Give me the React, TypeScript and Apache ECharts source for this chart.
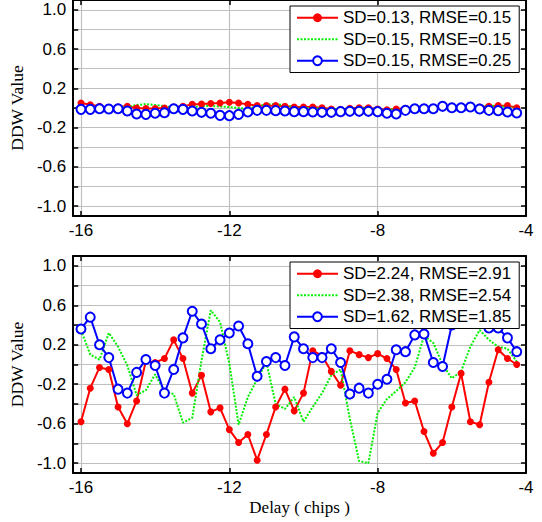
import React, { useEffect, useRef } from 'react';
import * as echarts from 'echarts';

const delay = [
  -16, -15.75, -15.5, -15.25, -15, -14.75, -14.5, -14.25,
  -14, -13.75, -13.5, -13.25, -13, -12.75, -12.5, -12.25,
  -12, -11.75, -11.5, -11.25, -11, -10.75, -10.5, -10.25,
  -10, -9.75, -9.5, -9.25, -9, -8.75, -8.5, -8.25,
  -8, -7.75, -7.5, -7.25, -7, -6.75, -6.5, -6.25,
  -6, -5.75, -5.5, -5.25, -5, -4.75, -4.5, -4.25,
];

const topNames = ['SD=0.13, RMSE=0.15', 'SD=0.15, RMSE=0.15', 'SD=0.15, RMSE=0.25'];
const bottomNames = ['SD=2.24, RMSE=2.91', 'SD=2.38, RMSE=2.54', 'SD=1.62, RMSE=1.85'];

const topRed = [
  0.051, 0.034, 0.017, 0.003, 0.01, 0.017, 0.0, -0.005, -0.005, 0.0, 0.01, 0.017,
  0.037, 0.04, 0.045, 0.051, 0.058, 0.051, 0.037, 0.024, 0.024, 0.024, 0.017, 0.01,
  0.01, 0.01, 0.003, -0.01, -0.014, -0.003, 0.003, 0.003, -0.01, -0.017, -0.01, -0.003,
  0.003, 0.003, 0.003, 0.017, 0.017, 0.017, 0.017, 0.01, 0.017, 0.024, 0.024, 0.003,
];
const topGreen = [
  0.0, 0.0, 0.0, -0.005, 0.0, 0.01, 0.03, 0.04, 0.03, 0.02, 0.0, 0.0,
  0.01, 0.02, 0.02, 0.015, 0.01, 0.0, -0.01, 0.02, 0.035, 0.04, 0.03, 0.01,
  0.0, 0.0, -0.005, -0.01, -0.01, -0.005, 0.0, -0.005, -0.01, -0.015, -0.015, -0.005,
  0.0, 0.005, 0.01, 0.01, 0.01, 0.01, 0.01, 0.02, 0.025, 0.02, 0.01, 0.0,
];
const topBlue = [
  -0.014, -0.014, -0.007, -0.01, -0.007, -0.031, -0.061, -0.065, -0.054, -0.048, -0.007, -0.014,
  -0.031, -0.044, -0.054, -0.075, -0.078, -0.065, -0.041, -0.024, -0.024, -0.027, -0.031, -0.037,
  -0.037, -0.041, -0.044, -0.044, -0.037, -0.034, -0.034, -0.034, -0.037, -0.054, -0.061, -0.024,
  -0.007, -0.007, -0.007, 0.017, 0.003, 0.003, 0.01, -0.01, -0.024, -0.027, -0.041, -0.051,
];

const botRed = [
  -0.58, -0.24, -0.03, -0.05, -0.43, -0.6, -0.37, 0.035, 0.02, 0.06, 0.25, 0.06,
  -0.29, -0.11, -0.48, -0.44, -0.66, -0.79, -0.71, -0.97, -0.71, -0.43, -0.25, -0.47,
  -0.29, 0.14, 0.09, -0.07, -0.21, 0.14, 0.1, 0.07, 0.11, 0.06, -0.05, -0.39,
  -0.37, -0.68, -0.9, -0.79, -0.43, -0.09, -0.58, -0.61, -0.18, 0.15, 0.06, 0.0,
];
const botGreen = [
  0.35, 0.1, 0.05, 0.32, 0.18, -0.01, -0.31, -0.26, -0.1, -0.27, -0.3, -0.59,
  -0.54, 0.04, 0.55, 0.43, 0.01, -0.61, -0.33, -0.15, 0.02, -0.4, -0.45, -0.33,
  -0.58, -0.43, -0.29, -0.11, -0.05, -0.55, -0.98, -1.0, -0.49, -0.35, -0.27, -0.18,
  -0.03, 0.29, 0.22, 0.0, -0.14, -0.07, 0.18, 0.35, 0.25, 0.18, 0.16, 0.03,
];
const botBlue = [
  0.36, 0.48, 0.2, 0.07, -0.25, -0.29, -0.08, 0.05, -0.01, -0.29, -0.05, 0.27,
  0.54, 0.41, 0.16, 0.25, 0.32, 0.39, 0.21, -0.12, 0.03, 0.07, -0.01, 0.28,
  0.16, 0.07, 0.07, 0.16, 0.02, -0.3, -0.24, -0.29, -0.2, -0.15, 0.15, 0.13,
  0.3, 0.31, 0.02, -0.02, 0.4, 0.42, 0.45, 0.42, 0.37, 0.37, 0.27, 0.13,
];

const yTicks = [-1.0, -0.8, -0.6, -0.4, -0.2, 0, 0.2, 0.4, 0.6, 0.8, 1.0];
const yLabels = [-1.0, -0.6, -0.2, 0.2, 0.6, 1.0];
const xTicks = [-16, -12, -8, -4];

const SANS = '"Liberation Sans", Arial, sans-serif';
const SERIF = '"Liberation Serif", "Times New Roman", serif';
const GRID_COLOR = '#bfbfbf';
const GREEN = '#00f000';

function pair(ys: number[]) {
  return delay.map((x, i) => [x, ys[i]]);
}

function makeX(gridIndex: number, top: boolean, withName: boolean) {
  return {
    type: 'value',
    gridIndex,
    position: top ? 'top' : 'bottom',
    min: -16.21,
    max: -4,
    name: withName ? 'Delay ( chips )' : '',
    nameLocation: 'middle',
    nameGap: 26,
    nameTextStyle: { fontFamily: SERIF, fontSize: 17, color: '#000' },
    axisLine: { show: true, onZero: false, lineStyle: { color: '#000', width: 2 } },
    axisTick: { show: true, inside: true, length: 5, customValues: xTicks, lineStyle: { color: '#000', width: 1.5 } },
    axisLabel: {
      show: !top,
      customValues: xTicks,
      formatter: (v: number) => String(v),
      fontFamily: SANS,
      fontSize: 17,
      color: '#000',
      margin: 6,
    },
    splitLine: { show: !top, lineStyle: { color: GRID_COLOR, width: 1.2 } },
  };
}

function makeY(gridIndex: number, right: boolean) {
  return {
    type: 'value',
    gridIndex,
    position: right ? 'right' : 'left',
    min: -1.1,
    max: 1.1,
    name: right ? '' : 'DDW Value',
    nameLocation: 'middle',
    nameGap: 43,
    nameTextStyle: { fontFamily: SERIF, fontSize: 17.5, color: '#000' },
    axisLine: { show: true, onZero: false, lineStyle: { color: '#000', width: 2 } },
    axisTick: { show: true, inside: true, length: 5, customValues: yTicks, lineStyle: { color: '#000', width: 1.5 } },
    axisLabel: {
      show: !right,
      customValues: yLabels,
      formatter: (v: number) => v.toFixed(1),
      fontFamily: SANS,
      fontSize: 17,
      color: '#000',
      margin: 7,
    },
    splitLine: { show: !right, lineStyle: { color: GRID_COLOR, width: 1.2 } },
  };
}

function makeSeries(names: string[], r: number[], g: number[], b: number[], xi: number, yi: number) {
  return [
    {
      type: 'line', name: names[0], xAxisIndex: xi, yAxisIndex: yi, data: pair(r),
      symbol: 'circle', symbolSize: 7, color: '#ff0000',
      lineStyle: { color: '#ff0000', width: 2 }, itemStyle: { color: '#ff0000' },
    },
    {
      type: 'line', name: names[1], xAxisIndex: xi, yAxisIndex: yi, data: pair(g),
      showSymbol: false, symbol: 'none', color: GREEN,
      lineStyle: { color: GREEN, width: 2, type: [2, 1.5] },
    },
    {
      type: 'line', name: names[2], xAxisIndex: xi, yAxisIndex: yi, data: pair(b),
      symbol: 'emptyCircle', symbolSize: 9, color: '#0000ff',
      lineStyle: { color: '#0000ff', width: 2 }, itemStyle: { color: '#0000ff', borderWidth: 2, borderColor: '#0000ff' },
    },
  ];
}

function makeLegend(names: string[], top: number) {
  return {
    data: [
      { name: names[0] },
      { name: names[1], itemStyle: { opacity: 0 } },
      { name: names[2] },
    ],
    orient: 'vertical',
    left: 290,
    top,
    itemWidth: 41,
    itemHeight: 11,
    itemGap: 0,
    padding: [1, 8, 1, 6],
    backgroundColor: '#ffffff',
    borderColor: '#000',
    borderWidth: 1,
    selectedMode: false,
    z: 20,
    textStyle: { fontFamily: SANS, fontSize: 17, color: '#000', lineHeight: 21.5 },
  };
}

export default function App() {
  const ref = useRef<HTMLDivElement>(null);
  useEffect(() => {
    if (!ref.current) return;
    const chart = echarts.init(ref.current, undefined, { renderer: 'svg' });
    chart.setOption({
      animation: false,
      backgroundColor: '#ffffff',
      grid: [
        { left: 70, width: 456, top: -1, height: 217, show: false },
        { left: 70, width: 456, top: 256, height: 217, show: false },
      ],
      legend: [makeLegend(topNames, 6), makeLegend(bottomNames, 262)],
      xAxis: [makeX(0, false, false), makeX(0, true, false), makeX(1, false, true), makeX(1, true, false)],
      yAxis: [makeY(0, false), makeY(0, true), makeY(1, false), makeY(1, true)],
      series: [
        ...makeSeries(topNames, topRed, topGreen, topBlue, 0, 0),
        ...makeSeries(bottomNames, botRed, botGreen, botBlue, 2, 2),
      ],
    });
    return () => chart.dispose();
  }, []);
  return <div ref={ref} style={{ position: 'absolute', left: 0, top: 0, width: 542, height: 522 }} />;
}
